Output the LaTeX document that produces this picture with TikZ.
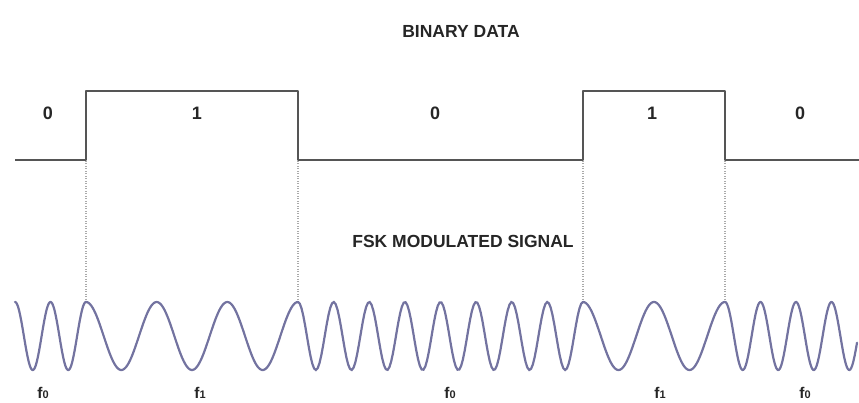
\documentclass[tikz,border=0pt]{standalone}
\usepackage{fontspec}
\setmainfont{Liberation Sans}
\usepackage{xcolor}
\usepackage{tikz}
\usetikzlibrary{positioning}

\definecolor{bitgray}{RGB}{85,85,85}
\definecolor{sigblue}{RGB}{115,115,160}
\definecolor{guidegray}{RGB}{170,170,170}

\begin{document}
\begin{tikzpicture}[
        x=1pt, y=-1pt,
        title/.style={font=\bfseries\fontsize{17.5}{20}\selectfont, text=black!85, inner sep=0pt},
        bitlabel/.style={font=\bfseries\fontsize{18}{20}\selectfont, text=black!85, inner sep=0pt},
        freqlabel/.style={font=\bfseries\fontsize{15.5}{17}\selectfont, text=black!85, inner sep=0pt, anchor=base},
        bitline/.style={draw=bitgray, line width=1.8pt, line join=round},
        signal/.style={draw=sigblue, line width=2.2pt, line cap=round},
        guide/.style={draw=guidegray, line width=1.2pt, dash pattern=on 1pt off 1.5pt}
    ]
        \useasboundingbox (0,0) rectangle (859,403);

        % Titles
        \node (bintitle) [title] at (461,31) {BINARY DATA};
        \node (fsktitle) [title] at (463,241) {FSK MODULATED SIGNAL};

        % Binary data
        \draw [bitline] (15,160) -- (86,160) -- (86,91) -- (298,91) -- (298,160)
            -- (583,160) -- (583,91) -- (725,91) -- (725,160) -- (859,160);
        \node (b0) [bitlabel] at (48,113) {0};
        \node (b1) [bitlabel] at (197,113) {1};
        \node (b2) [bitlabel] at (435,113) {0};
        \node (b3) [bitlabel] at (652,113) {1};
        \node (b4) [bitlabel] at (800,113) {0};

        % Edges and matching peaks
        \coordinate (e1) at (86,161);  \coordinate (p1) at (86,301);
        \coordinate (e2) at (298,161); \coordinate (p2) at (298,301);
        \coordinate (e3) at (583,161); \coordinate (p3) at (583,301);
        \coordinate (e4) at (725,161); \coordinate (p4) at (725,301);
        \draw [guide] (e1) -- (p1);
        \draw [guide] (e2) -- (p2);
        \draw [guide] (e3) -- (p3);
        \draw [guide] (e4) -- (p4);

        % FSK signal
        \foreach \a/\b/\p in {15/86/35.5, 86/298/70.667, 298/583/35.625, 583/725/71, 725/857/35.5}
            \draw [signal] plot[domain=\a:\b, samples=160] (\x, {336-34*cos((360/\p)*(\x-\a))});

        % Frequencies
        \node (fa) [freqlabel] at (43,398) {f{\fontsize{11}{12}\selectfont 0}};
        \node (fb) [freqlabel] at (200,398) {f{\fontsize{11}{12}\selectfont 1}};
        \node (fc) [freqlabel] at (450,398) {f{\fontsize{11}{12}\selectfont 0}};
        \node (fd) [freqlabel] at (660,398) {f{\fontsize{11}{12}\selectfont 1}};
        \node (fe) [freqlabel] at (805,398) {f{\fontsize{11}{12}\selectfont 0}};
    \end{tikzpicture}
\end{document}
